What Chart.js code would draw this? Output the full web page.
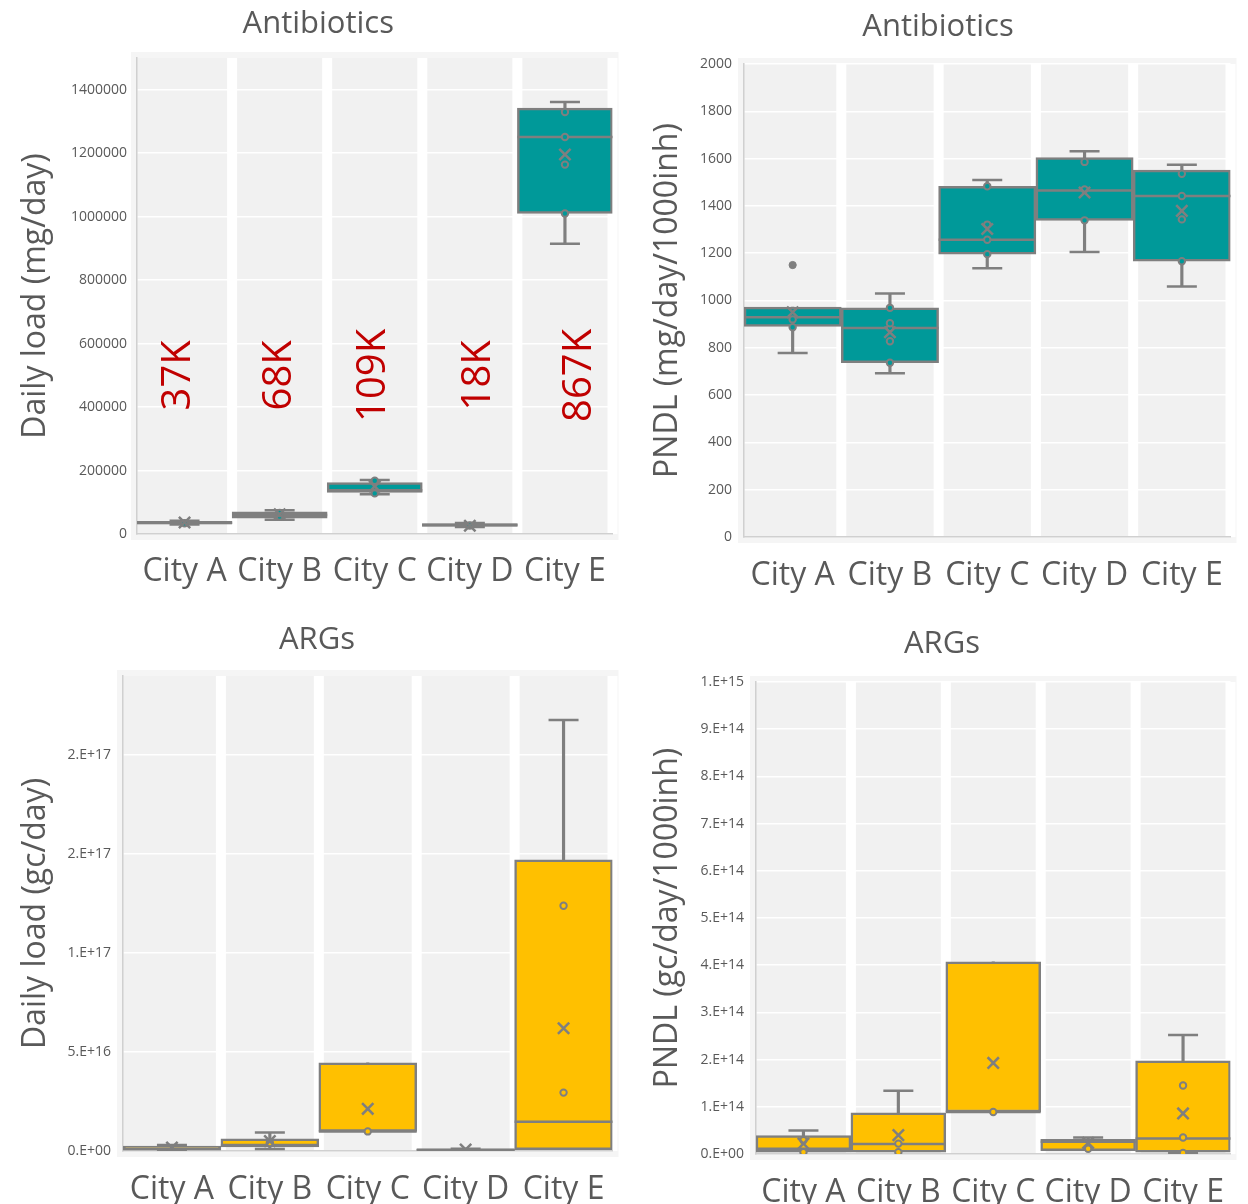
<!DOCTYPE html>
<html>
<head>
<meta charset="utf-8">
<title>Antibiotics and ARGs loads by city</title>
<script src="https://cdn.jsdelivr.net/npm/chart.js@4.4.1/dist/chart.umd.min.js"></script>
<style>
  html, body { margin: 0; padding: 0; background: #ffffff; }
  .wrap { position: relative; width: 1248px; height: 1204px; overflow: hidden; }
  .panel { position: absolute; }
  canvas { display: block; }
</style>
</head>
<body>
<div class="wrap">
  <div class="panel" style="left:0;top:0"><canvas id="abLoad" width="630" height="600"></canvas></div>
  <div class="panel" style="left:630px;top:0"><canvas id="abPndl" width="618" height="600"></canvas></div>
  <div class="panel" style="left:0;top:600px"><canvas id="argLoad" width="630" height="604"></canvas></div>
  <div class="panel" style="left:630px;top:600px"><canvas id="argPndl" width="618" height="604"></canvas></div>
</div>

<script>
const cities = ['City A', 'City B', 'City C', 'City D', 'City E'];

// Antibiotics - daily load (mg/day)
const abLoadMin    = [30000, 45000, 125000, 22000, 915000];
const abLoadQ1     = [32000, 50000, 131000, 24000, 1010000];
const abLoadMedian = [35000, 60000, 138000, 28000, 1251000];
const abLoadQ3     = [40000, 70000, 162000, 33000, 1342000];
const abLoadMax    = [42000, 75000, 170000, 35000, 1361000];
const abLoadMean   = [36000, 62000, 150000, 26000, 1196000];
const abLoadPoints = [[34000], [55000, 66000], [128000, 168000], [27000], [1010000, 1164000, 1251000, 1330000]];
const abLoadTicks  = ['0', '200000', '400000', '600000', '800000', '1000000', '1200000', '1400000'];
const abLoadNotes  = ['37K', '68K', '109K', '18K', '867K'];

// Antibiotics - PNDL (mg/day/1000inh)
const abPndlMin      = [778, 692, 1136, 1205, 1059];
const abPndlQ1       = [890, 737, 1196, 1339, 1166];
const abPndlMedian   = [929, 884, 1257, 1465, 1442];
const abPndlQ3       = [972, 969, 1483, 1604, 1551];
const abPndlMax      = [972, 1030, 1510, 1631, 1574];
const abPndlMean     = [950, 866, 1302, 1457, 1379];
const abPndlPoints   = [[887, 920], [737, 828, 884, 904, 969], [1196, 1257, 1321, 1483], [1339, 1470, 1586], [1166, 1343, 1442, 1536]];
const abPndlOutliers = [[1150], [], [], [], []];
const abPndlTicks    = ['0', '200', '400', '600', '800', '1000', '1200', '1400', '1600', '1800', '2000'];

// ARGs - daily load (gc/day)
const argLoadMin    = [2e14, 1e15, 9.9e15, 2e14, 7e14];
const argLoadQ1     = [5e14, 2e15, 9.9e15, 3e14, 7e14];
const argLoadMedian = [1e15, 3e15, 9.9e15, 6e14, 1.48e16];
const argLoadQ3     = [2.5e15, 6.2e15, 4.45e16, 1e15, 1.471e17];
const argLoadMax    = [3e15, 9.4e15, 4.45e16, 1.2e15, 2.178e17];
const argLoadMean   = [1.8e15, 5e15, 2.13e16, 8e14, 6.2e16];
const argLoadPoints = [[], [4e15], [9.9e15], [], [2.95e16, 1.239e17]];
const argLoadTicks  = ['0.E+00', '5.E+16', '1.E+17', '2.E+17', '2.E+17'];

// ARGs - PNDL (gc/day/1000inh)
const argPndlMin    = [4e12, 4e12, 8.9e13, 7e12, 2e12];
const argPndlQ1     = [4e12, 4e12, 8.9e13, 7e12, 4e12];
const argPndlMedian = [1.1e13, 2.1e13, 8.9e13, 2.6e13, 3.3e13];
const argPndlQ3     = [3.9e13, 8.7e13, 4.07e14, 3.1e13, 1.976e14];
const argPndlMax    = [5.0e13, 1.34e14, 4.07e14, 3.5e13, 2.52e14];
const argPndlMean   = [2.2e13, 4.0e13, 1.93e14, 2.36e13, 8.6e13];
const argPndlPoints = [[4e12, 2.9e13], [4e12, 2.2e13], [8.9e13], [1.1e13], [2e12, 3.5e13, 1.45e14]];
const argPndlTicks  = ['0.E+00', '1.E+14', '2.E+14', '3.E+14', '4.E+14', '5.E+14', '6.E+14', '7.E+14', '8.E+14', '9.E+14', '1.E+15'];

const FONT = "'Open Sans', 'Noto Sans', sans-serif";
const GREY = '#7f7f7f';
const TEXT = '#595959';
const AXIS = '#d0d0d0';
const TEAL = '#009999';
const AMBER = '#ffc000';

// grey columns with white gaps behind the boxes
const plotBackground = {
  id: 'plotBackground',
  beforeDraw(chart) {
    const { ctx, chartArea: a, scales: { x } } = chart;
    const step = a.width / cities.length;
    ctx.save();
    ctx.fillStyle = '#f5f5f5';
    ctx.fillRect(a.left - 6, a.top - 6, a.width + 12, a.height + 12);
    ctx.fillStyle = '#f1f1f1';
    ctx.fillRect(a.left, a.top, a.width, a.height);
    ctx.fillStyle = '#ffffff';
    for (let i = 0; i < cities.length; i++) {
      const edge = x.getPixelForValue(i) + step / 2;
      ctx.fillRect(edge - 5, a.top, 10, a.height);
    }
    ctx.restore();
  }
};

// rotated red notes on the first panel
const columnNotes = {
  id: 'columnNotes',
  afterDatasetsDraw(chart, args, opts) {
    if (!opts || !opts.labels) return;
    const { ctx, scales: { x, y } } = chart;
    ctx.save();
    ctx.fillStyle = '#c00000';
    ctx.font = '40px ' + FONT;
    ctx.textAlign = 'center';
    ctx.textBaseline = 'middle';
    opts.labels.forEach((t, i) => {
      ctx.save();
      ctx.translate(x.getPixelForValue(i) + (opts.dx ? opts.dx[i] : 0), y.getPixelForValue(opts.at));
      ctx.rotate(-Math.PI / 2);
      ctx.fillText(t, 0, 0);
      ctx.restore();
    });
    ctx.restore();
  }
};

function boxDatasets(s, fill) {
  const caps = [], pts = [], outs = [];
  cities.forEach((c, i) => {
    if (s.max[i] > s.q3[i]) caps.push({ x: c, y: s.max[i] });
    if (s.min[i] < s.q1[i]) caps.push({ x: c, y: s.min[i] });
    (s.points[i] || []).forEach(v => pts.push({ x: c, y: v }));
    ((s.outliers || [])[i] || []).forEach(v => outs.push({ x: c, y: v }));
  });
  const halfBox = c => c.chart.scales.x.width / cities.length / 2;

  return [
    // whisker stems
    { type: 'bar', data: cities.map((c, i) => [s.min[i], s.max[i]]), backgroundColor: GREY,
      borderWidth: 0, barThickness: 2.5, grouped: false, order: 6 },
    // boxes q1..q3
    { type: 'bar', data: cities.map((c, i) => [s.q1[i], s.q3[i]]), backgroundColor: fill,
      borderColor: GREY, borderWidth: 2.5, borderSkipped: false,
      barPercentage: 1, categoryPercentage: 1, grouped: false, order: 5 },
    // whisker caps
    { type: 'line', data: caps, showLine: false, pointStyle: 'line', pointRadius: 15,
      pointBorderColor: GREY, pointBorderWidth: 2.5, order: 4 },
    // medians
    { type: 'line', data: cities.map((c, i) => ({ x: c, y: s.median[i] })), showLine: false,
      pointStyle: 'line', pointRadius: halfBox, pointBorderColor: GREY, pointBorderWidth: 2.5, order: 3 },
    // inner points
    { type: 'line', data: pts, showLine: false, pointStyle: 'circle', pointRadius: 3.2,
      pointBackgroundColor: fill, pointBorderColor: GREY, pointBorderWidth: 2, order: 2 },
    // outliers
    { type: 'line', data: outs, showLine: false, pointStyle: 'circle', pointRadius: 3.6,
      pointBackgroundColor: GREY, pointBorderColor: GREY, pointBorderWidth: 1, order: 1 },
    // means
    { type: 'line', data: cities.map((c, i) => ({ x: c, y: s.mean[i] })), showLine: false,
      pointStyle: 'crossRot', pointRadius: 8, pointBorderColor: GREY, pointBorderWidth: 2.5, order: 0 }
  ];
}

function boxChart(id, s, fill, cfg) {
  const step = cfg.step;
  return new Chart(document.getElementById(id), {
    type: 'bar',
    data: { labels: cities, datasets: boxDatasets(s, fill) },
    plugins: [plotBackground, columnNotes],
    options: {
      responsive: false,
      animation: false,
      events: [],
      layout: { padding: { left: cfg.padLeft, right: cfg.padRight, top: 0, bottom: 0 } },
      plugins: {
        legend: { display: false },
        tooltip: { enabled: false },
        title: {
          display: true,
          text: cfg.title,
          color: TEXT,
          font: { family: FONT, size: 31, weight: 'normal' },
          padding: { top: cfg.titleTop, bottom: cfg.titleBottom }
        },
        columnNotes: cfg.notes || {}
      },
      scales: {
        x: {
          grid: { display: false },
          border: { display: true, color: AXIS, width: 1.5 },
          ticks: { color: TEXT, font: { family: FONT, size: 32 }, padding: cfg.xPad, maxRotation: 0, autoSkip: false },
          afterFit: sc => { sc.height = cfg.xHeight; }
        },
        y: {
          min: 0,
          max: cfg.max,
          bounds: 'data',
          grid: { color: '#ffffff', lineWidth: 1.5, drawTicks: false },
          border: { display: true, color: AXIS, width: 1.5 },
          ticks: {
            autoSkip: false,
            color: TEXT,
            font: { family: FONT, size: 14 },
            padding: cfg.tickPad,
            callback: v => cfg.ticks[Math.round(v / step)]
          },
          // one tick per label, every `step`
          afterBuildTicks: sc => {
            sc.ticks = cfg.ticks.map((t, i) => ({ value: i * step }));
          },
          title: {
            display: true,
            text: cfg.yTitle,
            color: TEXT,
            font: { family: FONT, size: 32 },
            padding: { top: cfg.yTitlePad, bottom: 0 }
          },
          afterFit: sc => { sc.width = cfg.yWidth; }
        }
      }
    }
  });
}

boxChart('abLoad', {
  min: abLoadMin, q1: abLoadQ1, median: abLoadMedian, q3: abLoadQ3, max: abLoadMax,
  mean: abLoadMean, points: abLoadPoints
}, TEAL, {
  title: 'Antibiotics', yTitle: 'Daily load (mg/day)', ticks: abLoadTicks,
  max: 1500000, step: 200000,
  padLeft: 17, yWidth: 120, xHeight: 66, padRight: 10.5, titleTop: 5.4, titleBottom: 15.4,
  yTitlePad: 0, tickPad: 10, xPad: 11,
  notes: { labels: abLoadNotes, at: 500000, dx: [-6, 0, -1, 9, 15] }
});

boxChart('abPndl', {
  min: abPndlMin, q1: abPndlQ1, median: abPndlMedian, q3: abPndlQ3, max: abPndlMax,
  mean: abPndlMean, points: abPndlPoints, outliers: abPndlOutliers
}, TEAL, {
  title: 'Antibiotics', yTitle: 'PNDL (mg/day/1000inh)', ticks: abPndlTicks,
  max: 2000, step: 200,
  padLeft: 12, yWidth: 102, xHeight: 63, padRight: 14, titleTop: 8.4, titleBottom: 18.4,
  yTitlePad: 7, tickPad: 12, xPad: 12
});

boxChart('argLoad', {
  min: argLoadMin, q1: argLoadQ1, median: argLoadMedian, q3: argLoadQ3, max: argLoadMax,
  mean: argLoadMean, points: argLoadPoints
}, AMBER, {
  title: 'ARGs', yTitle: 'Daily load (gc/day)', ticks: argLoadTicks,
  max: 2.4e17, step: 5e16,
  padLeft: 17, yWidth: 106, xHeight: 53, padRight: 13, titleTop: 21.4, titleBottom: 17.4,
  yTitlePad: 0, tickPad: 12, xPad: 12
});

boxChart('argPndl', {
  min: argPndlMin, q1: argPndlQ1, median: argPndlMedian, q3: argPndlQ3, max: argPndlMax,
  mean: argPndlMean, points: argPndlPoints
}, AMBER, {
  title: 'ARGs', yTitle: 'PNDL (gc/day/1000inh)', ticks: argPndlTicks,
  max: 1e15, step: 1e14,
  padLeft: 13, yWidth: 113, xHeight: 50, padRight: 7, titleTop: 25.4, titleBottom: 19.4,
  yTitlePad: 6, tickPad: 12, xPad: 12
});
</script>
</body>
</html>
